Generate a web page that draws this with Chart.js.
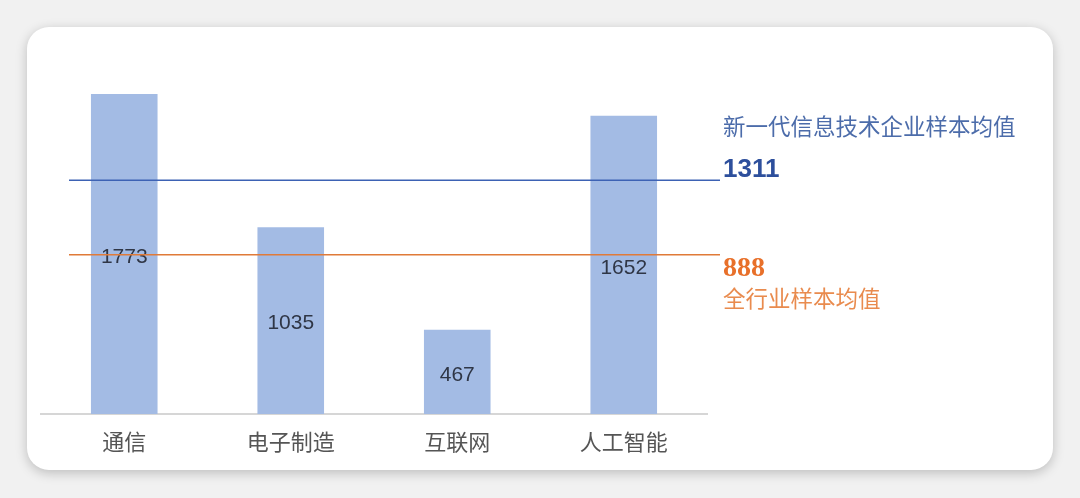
<!DOCTYPE html>
<html>
<head>
<meta charset="utf-8">
<script src="https://cdn.jsdelivr.net/npm/chart.js@4"></script>
<style>
  html, body { margin: 0; padding: 0; background: #f1f1f1; }
  #wrap { position: relative; width: 1080px; height: 498px; overflow: hidden; }
  #card {
    position: absolute; left: 27px; top: 27px; width: 1026px; height: 443px;
    background: #fff; border-radius: 22px;
    box-shadow: 0 3px 12px rgba(0,0,0,0.22);
  }
  #c { position: absolute; left: 0; top: 0; }
</style>
</head>
<body>
<div id="wrap">
  <div id="card"></div>
  <canvas id="c" width="1080" height="498"></canvas>
</div>
<script>
// data
const categories = ["通信", "电子制造", "互联网", "人工智能"];
const values = [1773, 1035, 467, 1652];
const avgNames = ["新一代信息技术企业样本均值", "全行业样本均值"];
const avgValues = [1311, 888];

const CJK = '"Noto Sans CJK SC", "Noto Sans", sans-serif';

// value labels in middle of bars
const valueLabels = {
  id: "valueLabels",
  afterDatasetsDraw(chart) {
    const ctx = chart.ctx;
    const meta = chart.getDatasetMeta(0);
    ctx.save();
    ctx.font = '21px "Liberation Sans", Arial, sans-serif';
    ctx.fillStyle = "#2f3646";
    ctx.textAlign = "center";
    ctx.textBaseline = "middle";
    meta.data.forEach((bar, i) => {
      ctx.fillText(String(values[i]), bar.x, (bar.y + bar.base) / 2 + 3);
    });
    ctx.restore();
  }
};

// the two average lines + their labels on the right
const avgLines = {
  id: "avgLines",
  afterDatasetsDraw(chart) {
    const ctx = chart.ctx;
    const area = chart.chartArea;
    const y = chart.scales.y;
    const x0 = area.left + 28, x1 = area.right + 13, tx = area.right + 16;
    ctx.save();

    // blue
    let ly = y.getPixelForValue(avgValues[0]) + 3;
    ctx.strokeStyle = "#3d62b4";
    ctx.lineWidth = 1.5;
    ctx.beginPath(); ctx.moveTo(x0, ly); ctx.lineTo(x1, ly); ctx.stroke();
    ctx.textAlign = "left";
    ctx.textBaseline = "middle";
    ctx.fillStyle = "#4c6caa";
    ctx.font = "22.5px " + CJK;
    ctx.fillText(avgNames[0], tx, ly - 54);
    ctx.fillStyle = "#2d4f9c";
    ctx.font = 'bold 26px "Liberation Sans", Arial, sans-serif';
    ctx.fillText(String(avgValues[0]), tx, ly - 11);

    // orange
    ly = y.getPixelForValue(avgValues[1]) + 1;
    ctx.strokeStyle = "#e07a38";
    ctx.beginPath(); ctx.moveTo(x0, ly); ctx.lineTo(x1, ly); ctx.stroke();
    ctx.fillStyle = "#e8702a";
    ctx.font = 'bold 28px "Liberation Serif", "Times New Roman", serif';
    ctx.fillText(String(avgValues[1]), tx, ly + 14);
    ctx.fillStyle = "#e98b4e";
    ctx.font = "22.5px " + CJK;
    ctx.fillText(avgNames[1], tx, ly + 44);

    ctx.restore();
  }
};

new Chart(document.getElementById("c"), {
  type: "bar",
  data: {
    labels: categories,
    datasets: [{
      data: values,
      backgroundColor: "#a3bbe4",
      borderWidth: 0,
      categoryPercentage: 1,
      barPercentage: 0.4
    }]
  },
  options: {
    responsive: false,
    animation: false,
    layout: { padding: { left: 41, right: 373, top: 53, bottom: 0 } },
    plugins: { legend: { display: false }, tooltip: { enabled: false } },
    scales: {
      x: {
        grid: { display: false, drawTicks: false },
        border: { display: true, color: "#d6d6d6", width: 2 },
        ticks: {
          padding: 14,
          color: "#555555",
          font: { family: CJK, size: 22 }
        },
        afterFit(scale) { scale.height = 84; }
      },
      y: {
        display: false,
        min: 0,
        max: 2000
      }
    }
  },
  plugins: [valueLabels, avgLines]
});
</script>
</body>
</html>
